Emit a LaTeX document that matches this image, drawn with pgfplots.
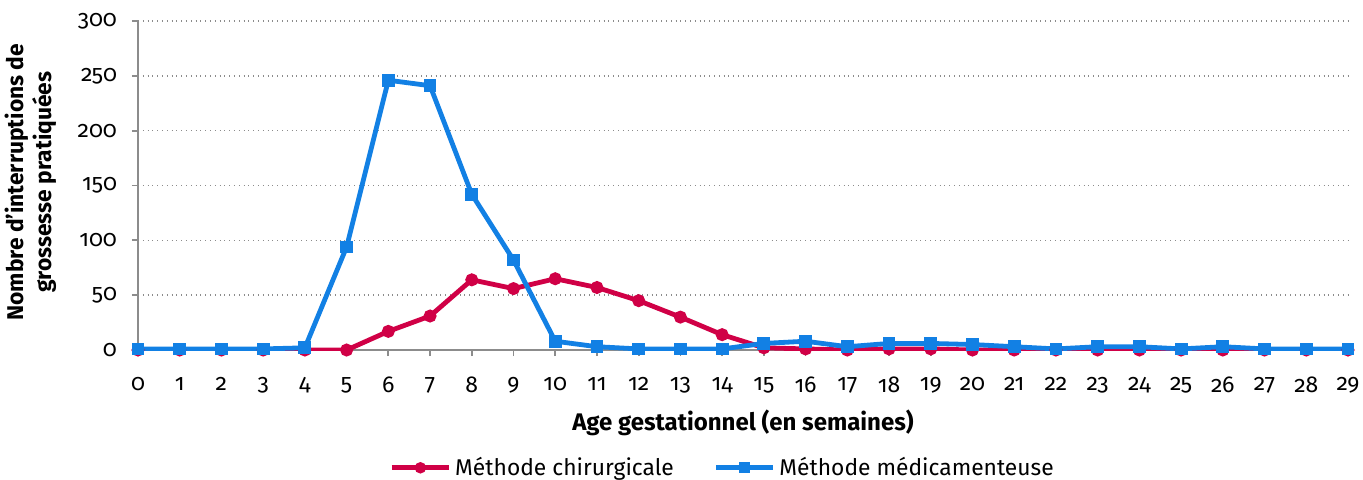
\documentclass[border=0pt]{standalone}
\usepackage{pgfplots}
\pgfplotsset{compat=1.18}
\usepackage{fontspec}
\setmainfont[Numbers=OldStyle]{Fira Sans}
\definecolor{cred}{RGB}{208,0,70}
\definecolor{cblue}{RGB}{18,128,228}
\definecolor{cgrid}{RGB}{140,140,140}
\begin{document}
\begin{tikzpicture}
\useasboundingbox (-69pt,-64.5pt) rectangle (612.5pt,175pt);
\begin{axis}[
  at={(0,0)}, anchor=south west,
  scale only axis, width=605pt, height=164.5pt,
  xmin=0, xmax=29, ymin=0, ymax=300,
  xtick={0,...,29}, ytick={0,50,...,300},
  axis x line*=bottom, axis y line*=left,
  axis line style={cgrid, line width=0.9pt, -},
  tick style={cgrid, line width=0.9pt},
  tick align=outside, major tick length=3pt,
  ymajorgrids, grid style={cgrid, dotted, line width=0.8pt},
  ticklabel style={font=\fontsize{11.5pt}{12pt}\selectfont, text=black},
  /pgf/number format/assume math mode=true,
  yticklabel style={xshift=-4pt},
  xticklabel style={yshift=-7pt},
  xlabel={\bfseries Age gestationnel (en semaines)},
  xlabel style={font=\fontsize{12pt}{13pt}\selectfont, at={(axis description cs:0.5,-0.222)}, anchor=center},
  ylabel={\bfseries Nombre d'interruptions de\\ \bfseries grossesse pratiquées},
  ylabel style={font=\fontsize{11.4pt}{14pt}\selectfont, align=center, at={(axis description cs:-0.0885,0.51)}, anchor=center, rotate=0},
  legend style={at={(axis description cs:0.484,-0.358)}, anchor=center, draw=none, fill=none,
    legend columns=2, font=\fontsize{11.4pt}{12pt}\selectfont,
    /tikz/every even column/.append style={column sep=18pt}},
  legend image code/.code={\draw[#1] (0cm,0cm) -- (0.5cm,0cm); \draw[#1,mark repeat=2,mark phase=2, mark size=1.6pt] plot coordinates {(0cm,0cm) (0.5cm,0cm) (1cm,0cm)}; \draw[#1] (0.5cm,0cm) -- (1cm,0cm);},
]
\addplot[cred, line width=2.4pt, mark=*, mark size=2pt, mark options={solid}] coordinates {
(0,0) (1,0) (2,0) (3,0) (4,0) (5,0) (6,17) (7,31) (8,64) (9,56) (10,65) (11,57) (12,45) (13,30) (14,14)
(15,2) (16,1) (17,0) (18,1) (19,1) (20,0) (21,0) (22,0) (23,0) (24,0) (25,0) (26,0) (27,0) (28,0) (29,0)};
\addlegendentry{Méthode chirurgicale}
\addplot[cblue, line width=2.4pt, mark=square*, mark size=2pt, mark options={solid}] coordinates {
(0,1) (1,1) (2,1) (3,1) (4,2) (5,94) (6,246) (7,241) (8,142) (9,82) (10,8) (11,3) (12,1) (13,1) (14,1)
(15,6) (16,8) (17,3) (18,6) (19,6) (20,5) (21,3) (22,1) (23,3) (24,3) (25,1) (26,3) (27,1) (28,1) (29,1)};
\addlegendentry{Méthode médicamenteuse}
\end{axis}
\end{tikzpicture}
\end{document}
